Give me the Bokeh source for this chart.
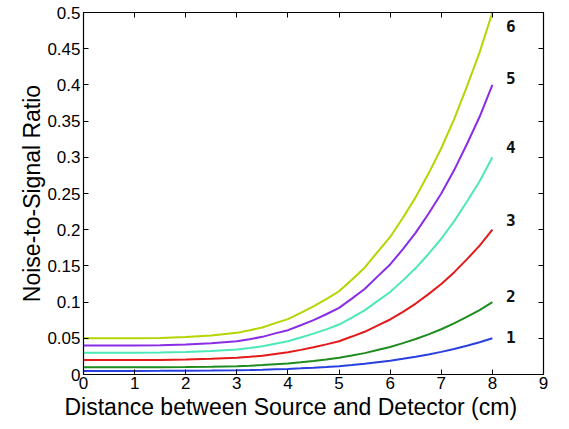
from bokeh.plotting import figure
from bokeh.models import Range1d, LinearAxis, FixedTicker, CustomJSTickFormatter, Title
from bokeh.core.properties import value
from bokeh.embed import file_html
from bokeh.resources import INLINE

x = [0, 0.5, 1, 1.5, 2, 2.5, 3, 3.25, 3.5, 3.75, 4, 4.25, 4.5, 4.75, 5, 5.25, 5.5, 5.75,
     6, 6.25, 6.5, 6.75, 7, 7.25, 7.5, 7.75, 8]

s1 = [0.005, 0.005, 0.005, 0.00505, 0.0052, 0.0054, 0.00575, 0.0061, 0.0065, 0.0071, 0.00765,
      0.0085, 0.0094, 0.0104, 0.0115, 0.0131, 0.01475, 0.0169, 0.019, 0.02165, 0.0245,
      0.02775, 0.03125, 0.03525, 0.03975, 0.0445, 0.05]
s2 = [0.01, 0.01, 0.01, 0.0101, 0.01035, 0.0108, 0.0115, 0.0122, 0.013, 0.0142, 0.0153,
      0.017, 0.0188, 0.0208, 0.023, 0.0262, 0.0295, 0.0338, 0.038, 0.0433, 0.049,
      0.0555, 0.0625, 0.0705, 0.0795, 0.089, 0.1]
s3 = [0.02, 0.02, 0.02, 0.0202, 0.0207, 0.0216, 0.023, 0.0244, 0.026, 0.0284, 0.0306,
      0.034, 0.0376, 0.0416, 0.046, 0.0524, 0.059, 0.0676, 0.076, 0.0866, 0.098,
      0.111, 0.125, 0.141, 0.159, 0.178, 0.2]
s4 = [0.03, 0.03, 0.0301, 0.0303, 0.0311, 0.0324, 0.0345, 0.0366, 0.039, 0.0426, 0.0459,
      0.051, 0.0564, 0.0624, 0.069, 0.0786, 0.0885, 0.1014, 0.114, 0.13, 0.147,
      0.1665, 0.1875, 0.2115, 0.2385, 0.267, 0.3]
s5 = [0.04, 0.04, 0.0401, 0.0404, 0.0414, 0.0432, 0.046, 0.0488, 0.052, 0.0568, 0.0612,
      0.068, 0.0752, 0.0832, 0.092, 0.1048, 0.118, 0.1352, 0.152, 0.1732, 0.196,
      0.222, 0.25, 0.282, 0.318, 0.356, 0.4]
s6 = [0.05, 0.05, 0.0501, 0.0505, 0.0518, 0.054, 0.0575, 0.061, 0.065, 0.071, 0.0765,
      0.085, 0.094, 0.104, 0.115, 0.131, 0.1475, 0.169, 0.19, 0.2165, 0.245,
      0.2775, 0.3125, 0.3525, 0.3975, 0.445, 0.5]

series = [s1, s2, s3, s4, s5, s6]
colors = ["#2a3fe0", "#1f8c1f", "#e31a1a", "#4de8b8", "#8a2be8", "#b5d400"]

label_text = ["1", "2", "3", "4", "5", "6"]
label_x = [8.36, 8.36, 8.36, 8.36, 8.36, 8.36]
label_y = [0.0515, 0.108, 0.214, 0.314, 0.41, 0.481]

x_ticks = [0, 1, 2, 3, 4, 5, 6, 7, 8, 9]
y_ticks = [0, 0.05, 0.1, 0.15, 0.2, 0.25, 0.3, 0.35, 0.4, 0.45, 0.5]

x_title = "Distance between Source and Detector (cm)"
y_title = "Noise-to-Signal Ratio"

p = figure(width=569, height=429, output_backend="svg", toolbar_location=None,
           x_range=Range1d(0, 9), y_range=Range1d(0, 0.5),
           min_border_left=83, min_border_right=26, min_border_top=12, min_border_bottom=55)
p.grid.visible = False
p.outline_line_color = "black"
p.outline_line_width = 1.2
p.background_fill_color = "white"
p.border_fill_color = "white"

for s, c in zip(series, colors):
    p.line(x, s, line_color=c, line_width=2)

p.text(x=label_x, y=label_y, text=label_text, text_font=value("DejaVu Sans Mono"),
       text_font_style="bold", text_font_size="16px", text_align="center",
       text_baseline="middle", text_color="#111111")

fmt = CustomJSTickFormatter(code="return tick.toFixed(2).replace(/\\.?0+$/, '');")
blank = CustomJSTickFormatter(code="return '';")

for ax, ticks in ((p.xaxis[0], x_ticks), (p.yaxis[0], y_ticks)):
    ax.ticker = FixedTicker(ticks=ticks)
    ax.major_tick_in = 5
    ax.major_tick_out = 0
    ax.minor_tick_line_color = None
    ax.axis_line_color = "black"
    ax.major_label_text_font = "Liberation Sans"
    ax.major_label_text_font_size = "17px"
    ax.major_label_text_color = "black"

p.yaxis[0].formatter = fmt
p.xaxis[0].major_label_standoff = 2
p.yaxis[0].major_label_standoff = 3

top = LinearAxis(ticker=FixedTicker(ticks=x_ticks), formatter=blank, major_tick_in=5,
                 major_tick_out=0, minor_tick_line_color=None, major_label_standoff=0,
                 axis_line_color="black")
right = LinearAxis(ticker=FixedTicker(ticks=y_ticks), formatter=blank, major_tick_in=5,
                   major_tick_out=0, minor_tick_line_color=None, major_label_standoff=0,
                   axis_line_color="black")
p.add_layout(top, "above")
p.add_layout(right, "right")

# axis titles as side titles (the reference titles sit off-centre)
p.add_layout(Title(text=x_title, align="left", offset=-19, standoff=0,
                   text_font="Liberation Sans", text_font_size="23px",
                   text_font_style="normal", text_color="black"), "below")
p.add_layout(Title(text=y_title, align="center", offset=21, standoff=0,
                   text_font="Liberation Sans", text_font_size="23px",
                   text_font_style="normal", text_color="black"), "left")

open("out.html", "w").write(file_html(p, INLINE))
